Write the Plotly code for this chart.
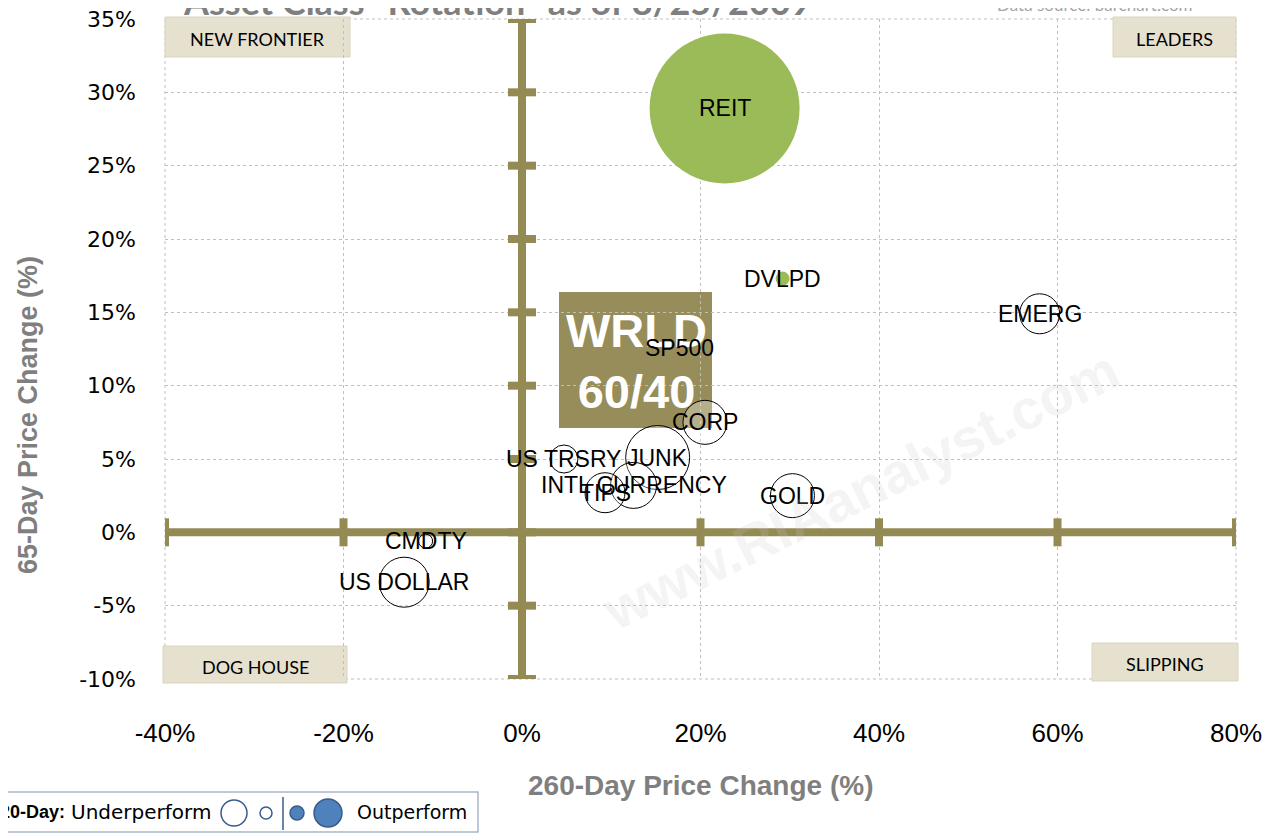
import plotly.graph_objects as go

# ---------------- data ----------------
names = ["REIT", "DVLPD", "EMERG", "SP500", "CORP", "JUNK", "US TRSRY",
         "INTL CURRENCY", "TIPS", "GOLD", "CMDTY", "US DOLLAR"]
chg_260 = [22.7, 29.2, 58.0, 17.6, 20.5, 15.2, 4.7, 12.5, 9.3, 30.3, -10.8, -13.2]
chg_65 = [28.9, 17.3, 14.9, 12.6, 7.5, 5.1, 5.0, 3.2, 2.7, 2.5, -0.6, -3.4]
chg_20_mag = [150, 14, 40, 6, 44, 64, 28, 46, 40, 44, 14, 50]
perf_20 = ["out", "out", "under", "out2", "under", "under", "under",
           "under", "under", "under", "under", "under"]

x_ticks = [-40, -20, 0, 20, 40, 60, 80]
x_tick_labels = ["-40%", "-20%", "0%", "20%", "40%", "60%", "80%"]
y_ticks = [-10, -5, 0, 5, 10, 15, 20, 25, 30, 35]
y_tick_labels = ["-10%", "-5%", "0%", "5%", "10%", "15%", "20%", "25%", "30%", "35%"]

quadrants = ["NEW FRONTIER", "LEADERS", "DOG HOUSE", "SLIPPING"]

# ---------------- style / layout ----------------
W, H = 1275, 833
OFF = 8  # page body offset
L, R, T, B = 165, 1236, 19, 679   # target plot area in screen pixels
PW, PH = R - L, B - T
OLIVE = "#948A54"
GRID = "#BFBFBF"
SANS = "Liberation Sans, Arial, sans-serif"


def px(x):
    return (x - L) / PW


def py(y):
    return (B - y) / PH


def ann(x, y, text, font, **kw):
    d = dict(xref="paper", yref="paper", x=px(x), y=py(y), text=text, showarrow=False,
             xanchor="center", yanchor="middle", font=font)
    d.update(kw)
    return d


fill_map = {"out": "#9BBB59", "out2": "#C0814F", "under": "rgba(255,255,255,0.3)"}
line_map = {"out": "#9BBB59", "out2": "#C0814F", "under": "#000000"}
line_w = {"out": 0, "out2": 0, "under": 1}

fig = go.Figure()

# axis cross (thick olive lines with tick bars)
fig.add_trace(go.Scatter(x=[x_ticks[0], x_ticks[-1]], y=[0, 0], mode="lines",
                         line=dict(color=OLIVE, width=8), hoverinfo="skip", showlegend=False))
fig.add_trace(go.Scatter(x=[0, 0], y=[y_ticks[0], y_ticks[-1]], mode="lines",
                         line=dict(color=OLIVE, width=8), hoverinfo="skip", showlegend=False))
fig.add_trace(go.Scatter(x=x_ticks, y=[0] * len(x_ticks), mode="markers",
                         marker=dict(symbol="line-ns", size=20, line=dict(color=OLIVE, width=8)),
                         hoverinfo="skip", showlegend=False))
fig.add_trace(go.Scatter(x=[0] * len(y_ticks), y=y_ticks, mode="markers",
                         marker=dict(symbol="line-ew", size=20, line=dict(color=OLIVE, width=8)),
                         hoverinfo="skip", showlegend=False))

# bubbles
fig.add_trace(go.Scatter(
    x=chg_260, y=chg_65, mode="markers",
    marker=dict(size=chg_20_mag, sizemode="diameter",
                color=[fill_map[p] for p in perf_20],
                line=dict(color=[line_map[p] for p in perf_20],
                          width=[line_w[p] for p in perf_20]),
                opacity=1),
    hoverinfo="text", text=names, showlegend=False))

shapes = []
annotations = []

# plot border (dotted)
shapes.append(dict(type="rect", xref="paper", yref="paper", x0=0, x1=1, y0=0, y1=1,
                   line=dict(color=GRID, width=1, dash="dot"), layer="below"))

# WRLD 60/40 box
shapes.append(dict(type="rect", xref="paper", yref="paper",
                   x0=px(559), x1=px(712), y0=py(428), y1=py(292),
                   fillcolor="#978D5B", line=dict(width=0), layer="between"))
annotations.append(ann(636, 361, "<b>WRLD<br>60/40</b>",
                       dict(family=SANS, size=47, color="white")))

# quadrant label boxes
qboxes = [(165, 350, 17, 57), (1113, 1236, 17, 57), (163, 347, 646, 683), (1092, 1238, 643, 681)]
for q, (x0, x1, y0, y1) in zip(quadrants, qboxes):
    shapes.append(dict(type="rect", xref="paper", yref="paper",
                       x0=px(x0), x1=px(x1), y0=py(y1), y1=py(y0),
                       fillcolor="#E6E1CE", line=dict(color="#DAD5C0", width=1), layer="between"))
    annotations.append(ann((x0 + x1) / 2, (y0 + y1) / 2 + 2, q,
                           dict(family="Lato, Liberation Sans, sans-serif", size=18, color="#000000")))

# bubble labels (drawn after WRLD text so they sit on top)
for n, xv, yv in zip(names, chg_260, chg_65):
    annotations.append(dict(x=xv, y=yv, xref="x", yref="y", text=n, showarrow=False,
                            xanchor="center", yanchor="middle",
                            font=dict(family=SANS, size=23, color="#000000")))

# watermark
annotations.append(ann(860, 490, "<b>www.RIAanalyst.com</b>",
                       dict(family=SANS, size=56, color="rgba(200,200,200,0.2)"), textangle=-26))

# title and source (cropped at top)
annotations.append(ann(497, 1, "<b>Asset Class \"Rotation\" as of 8/25/2009</b>",
                       dict(family="Lato, Liberation Sans, sans-serif", size=36, color="#7F7F7F")))
annotations.append(ann(1095, 5, "Data source: barchart.com",
                       dict(family="Lato, Liberation Sans, sans-serif", size=17, color="#A6A6A6")))

# axis titles
annotations.append(ann(700, 785, "<b>260-Day Price Change (%)</b>",
                       dict(family=SANS, size=28, color="#7F7F7F")))
annotations.append(ann(28, 415, "<b>65-Day Price Change (%)</b>",
                       dict(family=SANS, size=27, color="#7F7F7F"), textangle=-90))

# 20-day legend box
shapes.append(dict(type="rect", xref="paper", yref="paper",
                   x0=px(-10), x1=px(478), y0=py(832), y1=py(792),
                   line=dict(color="#A9B7C9", width=1.5), fillcolor="white", layer="above"))
annotations.append(ann(-2, 812, "<b>20-Day:</b>",
                       dict(family=SANS, size=18, color="#000000"), xanchor="left"))
annotations.append(ann(69, 812, "Underperform",
                       dict(family="DejaVu Sans, Verdana, sans-serif", size=20, color="#000000"),
                       xanchor="left"))
annotations.append(ann(355, 812, "Outperform",
                       dict(family="DejaVu Sans, Verdana, sans-serif", size=19, color="#000000"),
                       xanchor="left"))
leg_circles = [(234, 13, "white"), (266, 6, "white"), (297, 7, "#4F81BD"), (328, 14, "#4F81BD")]
for cx, r, fc in leg_circles:
    shapes.append(dict(type="circle", xref="paper", yref="paper",
                       x0=px(cx - r), x1=px(cx + r), y0=py(813 + r), y1=py(813 - r),
                       fillcolor=fc, line=dict(color="#385D8A", width=1.5), layer="above"))
shapes.append(dict(type="line", xref="paper", yref="paper", x0=px(283), x1=px(283),
                   y0=py(830), y1=py(797), line=dict(color="#385D8A", width=1.5), layer="above"))

fig.update_layout(
    width=W, height=H,
    margin=dict(l=L - OFF, r=W - (R - OFF), t=T - OFF, b=H - (B - OFF), autoexpand=False),
    plot_bgcolor="white", paper_bgcolor="white",
    shapes=shapes, annotations=annotations,
    xaxis=dict(range=[x_ticks[0], x_ticks[-1]], tickvals=x_ticks, ticktext=x_tick_labels,
               showgrid=True, gridcolor=GRID, griddash="dot", gridwidth=1, zeroline=False,
               showline=False, ticks="", ticklabelstandoff=36, automargin=False,
               ticklabeloverflow="allow",
               tickfont=dict(family=SANS, size=26, color="#000000")),
    yaxis=dict(range=[y_ticks[0], y_ticks[-1]], tickvals=y_ticks, ticktext=y_tick_labels,
               showgrid=True, gridcolor=GRID, griddash="dot", gridwidth=1, zeroline=False,
               showline=False, ticks="", ticklabelstandoff=28, automargin=False,
               ticklabeloverflow="allow",
               tickfont=dict(family="DejaVu Sans, Verdana, sans-serif", size=22, color="#000000")),
    showlegend=False,
)

fig.write_html("out.html")
